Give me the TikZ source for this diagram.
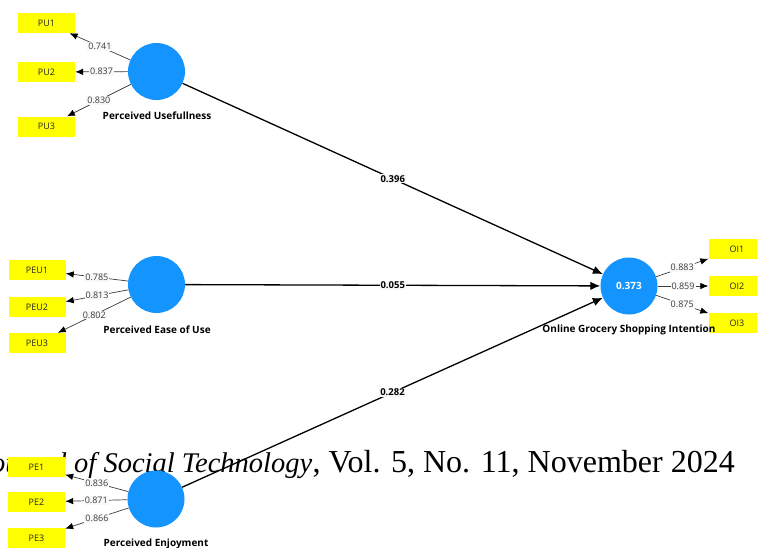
\documentclass[tikz,border=0pt]{standalone}
\usepackage{fontspec}
\setmainfont{Liberation Serif}
\newfontfamily\uifont{Open Sans}
\usetikzlibrary{arrows.meta}
\definecolor{lvblue}{RGB}{20,148,255}
\definecolor{mvyellow}{RGB}{255,255,0}
\definecolor{lblbg}{RGB}{248,248,248}
\definecolor{loadgray}{RGB}{60,60,60}
\begin{document}
\begin{tikzpicture}[x=1pt,y=-1pt,
 lv/.style={circle,fill=lvblue,draw=none,minimum size=57pt,inner sep=0pt},
 mv/.style={rectangle,fill=mvyellow,minimum width=57pt,minimum height=20pt,inner sep=0pt,font=\uifont\fontsize{9}{10}\selectfont,text=black!85},
 lvname/.style={font=\uifont\bfseries\fontsize{10}{11}\selectfont,inner sep=0pt},
 loadarrow/.style={draw=loadgray,line width=0.7pt,-{Latex[length=8pt,width=6.5pt,color=black]}},
 patharrow/.style={draw=black,line width=1.3pt,-{Latex[length=10pt,width=8.5pt]}},
 loadlbl/.style={fill=lblbg,inner sep=1pt,font=\uifont\fontsize{9}{10}\selectfont,text=loadgray},
 pathlbl/.style={fill=lblbg,inner sep=1pt,font=\uifont\bfseries\fontsize{9.5}{10}\selectfont},
]
\useasboundingbox (0,0) rectangle (757,547);
\clip (0,0) rectangle (757,547);
\fill[white] (0,0) rectangle (757,547);
\node[anchor=base east,inner sep=0pt,font=\fontsize{32}{36}\selectfont] (hdrb) at (735,472) {, Vol. 5, No. 11, November 2024};
\node[anchor=base east,inner sep=0pt,font=\fontsize{28.5}{34}\selectfont\itshape] (hdra) at (hdrb.base west) {Journal of Social Technology};
% latent variables
\node[lv] (pu) at (156.5,71.5) {};
\node[lv] (peu) at (156.5,284.5) {};
\node[lv] (pe) at (156,499) {};
\node[lv,text=white,font=\uifont\bfseries\fontsize{10}{11}\selectfont] (oi) at (629,286) {0.373};
% indicators
\node[mv] (pu1) at (46.5,23) {PU1};
\node[mv] (pu2) at (46.5,72) {PU2};
\node[mv] (pu3) at (46.5,126.5) {PU3};
\node[mv] (peu1) at (37,270) {PEU1};
\node[mv] (peu2) at (37,307) {PEU2};
\node[mv] (peu3) at (37,343) {PEU3};
\node[mv] (pe1) at (36.5,467) {PE1};
\node[mv] (pe2) at (36.5,502) {PE2};
\node[mv] (pe3) at (36.5,538) {PE3};
\node[mv] (oi1) at (737,249) {OI1};
\node[mv] (oi2) at (737,286) {OI2};
\node[mv] (oi3) at (737,323) {OI3};
% names
\node[lvname] (puname) at (157,116) {Perceived Usefullness};
\node[lvname] (peuname) at (157,330) {Perceived Ease of Use};
\node[lvname] (pename) at (156,544) {Perceived Enjoyment};
\node[lvname] (oiname) at (629,330) {Online Grocery Shopping Intention};
% loadings
\draw[loadarrow] (pu) -- node[loadlbl] (l1) {0.741} (pu1);
\draw[loadarrow] (pu) -- node[loadlbl] (l2) {0.837} (pu2);
\draw[loadarrow] (pu) -- node[loadlbl] (l3) {0.830} (pu3);
\draw[loadarrow] (peu) -- node[loadlbl] (l4) {0.785} (peu1);
\draw[loadarrow] (peu) -- node[loadlbl] (l5) {0.813} (peu2);
\draw[loadarrow] (peu) -- node[loadlbl] (l6) {0.802} (peu3);
\draw[loadarrow] (pe) -- node[loadlbl] (l7) {0.836} (pe1);
\draw[loadarrow] (pe) -- node[loadlbl] (l8) {0.871} (pe2);
\draw[loadarrow] (pe) -- node[loadlbl] (l9) {0.866} (pe3);
\draw[loadarrow] (oi) -- node[loadlbl] (l10) {0.883} (oi1);
\draw[loadarrow] (oi) -- node[loadlbl] (l11) {0.859} (oi2);
\draw[loadarrow] (oi) -- node[loadlbl] (l12) {0.875} (oi3);
% paths
\draw[patharrow] (pu) -- node[pathlbl] (p1) {0.396} (oi);
\draw[patharrow] (peu) -- node[pathlbl] (p2) {0.055} (oi);
\draw[patharrow] (pe) -- node[pathlbl] (p3) {0.282} (oi);
\end{tikzpicture}
\end{document}
